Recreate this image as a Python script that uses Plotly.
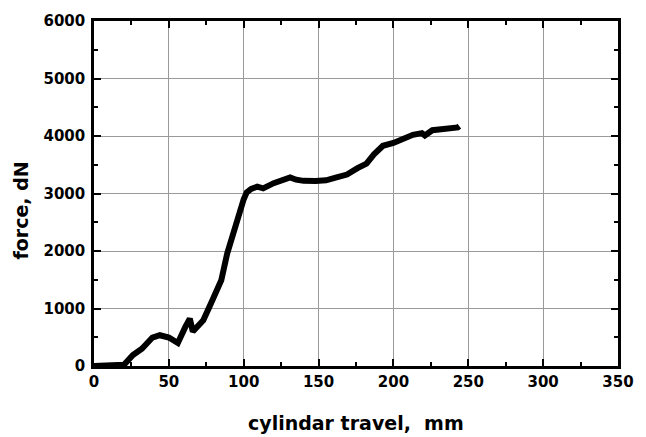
import plotly.graph_objects as go

travel_mm = [0, 10, 18, 20, 26, 32, 39, 44, 50, 56, 61, 64, 66, 73, 79, 85, 89, 93, 96,
             100, 102, 105, 109, 113, 120, 127, 131, 135, 140, 148, 155, 162, 169, 176, 182,
             187, 193, 200, 206, 213, 219, 221, 226, 232, 239, 243, 244]
force_dN = [0, 0, 0, 20, 190, 300, 495, 535, 495, 400, 680, 825, 600, 795, 1140, 1490, 1960,
            2330, 2560, 2900, 3020, 3080, 3118, 3090, 3180, 3260, 3280, 3240, 3220, 3216, 3230,
            3280, 3330, 3440, 3520, 3680, 3830, 3880, 3950, 4020, 4050, 4010, 4100, 4110, 4120,
            4150, 4170]

x_ticks = [0, 50, 100, 150, 200, 250, 300, 350]
y_ticks = [0, 1000, 2000, 3000, 4000, 5000, 6000]

FONT = "DejaVu Sans, Arial, sans-serif"

fig = go.Figure()
fig.add_trace(go.Scatter(x=travel_mm, y=force_dN, mode="lines",
                         line=dict(color="black", width=6), showlegend=False))

axis_common = dict(
    showline=True, linecolor="black", linewidth=2.5, mirror="ticks",
    ticks="inside", ticklen=7, tickwidth=2, tickcolor="black",
    showgrid=True, gridcolor="#9a9a9a", gridwidth=1, zeroline=False,
    tickfont=dict(family=FONT, size=15, color="black", weight="bold"),
)

fig.update_xaxes(range=[0, 350], tickvals=x_ticks, ticktext=[str(v) for v in x_ticks],
                 minor=dict(ticks="inside", ticklen=4, tickwidth=2, tickcolor="black", dtick=25,
                            tick0=0, showgrid=False),
                 **axis_common)
fig.update_yaxes(range=[0, 6000], tickvals=y_ticks, ticktext=[str(v) for v in y_ticks],
                 ticklabelstandoff=3,
                 minor=dict(ticks="inside", ticklen=4, tickwidth=2, tickcolor="black", dtick=500,
                            tick0=0, showgrid=False),
                 **axis_common)

fig.add_annotation(text="cylindar travel,  mm", xref="paper", yref="paper", x=0.5, y=0,
                   xanchor="center", yanchor="top", yshift=-44, showarrow=False,
                   font=dict(family=FONT, size=19, color="black", weight="bold"))
fig.add_annotation(text="force, dN", xref="paper", yref="paper", x=0, y=0.5,
                   xanchor="center", yanchor="middle", xshift=-74, yshift=-17, textangle=-90,
                   showarrow=False,
                   font=dict(family=FONT, size=19, color="black", weight="bold"))

fig.update_layout(width=646, height=437, margin=dict(l=94, r=16, t=19, b=71),
                  paper_bgcolor="white", plot_bgcolor="white")

fig.write_html("out.html")
